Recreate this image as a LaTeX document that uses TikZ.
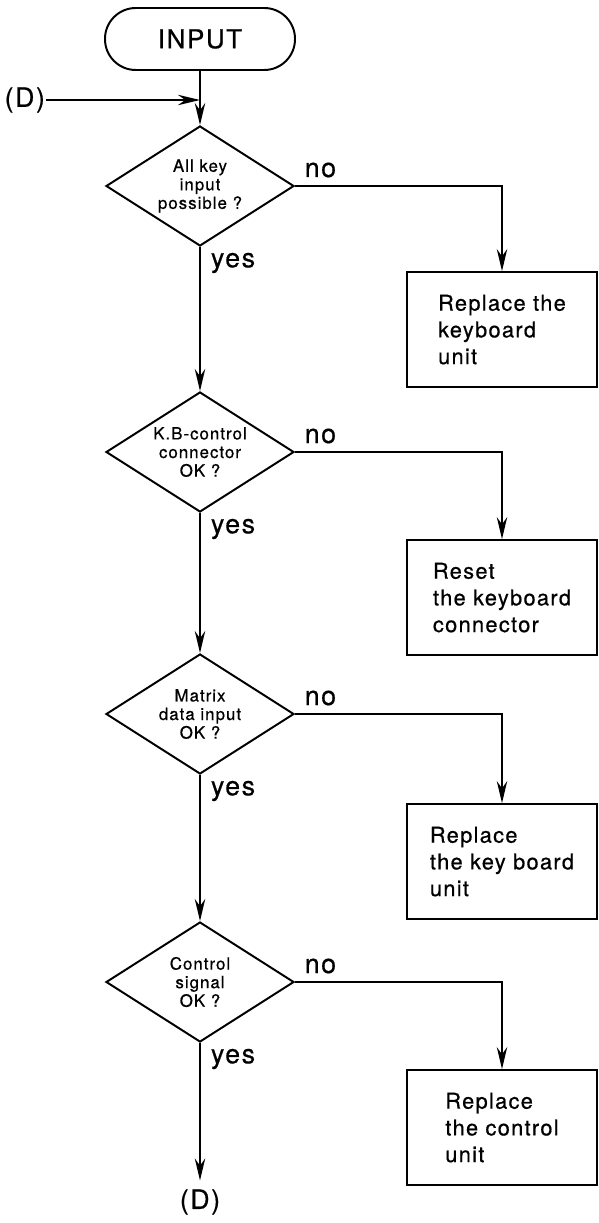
\documentclass[tikz,border=0pt]{standalone}
\usepackage{fontspec}
\setmainfont{TeX Gyre Heros}[LetterSpace=6, FakeBold=0.6]
\usetikzlibrary{arrows.meta, positioning, shapes.geometric}

\begin{document}
\begin{tikzpicture}[>={Stealth[length=5.5mm, width=2.6mm, inset=1.8mm]}, line width=1.4pt,
        decision/.style={draw, diamond, aspect=1.57, inner sep=0pt, minimum width=4.7cm, minimum height=3cm, align=center, font=\fontsize{12}{13.2}\selectfont},
        action/.style={draw, rectangle, minimum width=4.75cm, minimum height=2.875cm, align=left, font=\fontsize{15.5}{19}\selectfont},
        answer/.style={inner sep=0pt, font=\fontsize{19}{21}\selectfont}]

        \useasboundingbox (0,0) rectangle (14.95,-30.575);

        \coordinate (T) at (5,-0.975);
        \coordinate (J) at (5,-2.5);

        \node[draw, rounded corners=0.77cm, minimum width=4.75cm, minimum height=1.55cm, font=\fontsize{18.5}{20}\selectfont] (input) at (T) {INPUT};
        \node[inner sep=0pt, font=\fontsize{19}{21}\selectfont] (dIn) at (0.62,-2.5) {(D)};

        \node[decision] (chkKey) at (5,-4.65) {All key\\input\\possible ?};
        \node[decision] (chkConn) at (5,-11.3) {K.B-control\\connector\\OK ?};
        \node[decision] (chkMatrix) at (5,-17.85) {Matrix\\data input\\OK ?};
        \node[decision] (chkSignal) at (5,-24.55) {Control\\signal\\OK ?};

        \node[action] (fixKeyboard) at (12.55,-8.24) {Replace the\\keyboard\\unit};
        \node[action] (fixConn) at (12.55,-14.94) {Reset\\the keyboard\\connector};
        \node[action] (fixKeyUnit) at (12.55,-21.54) {Replace\\the key board\\unit};
        \node[action] (fixControl) at (12.55,-28.19) {Replace\\the control\\unit};

        \node[inner sep=0pt, font=\fontsize{19}{21}\selectfont] (dOut) at (5,-30.05) {(D)};

        \draw (input.south) -- (J);
        \draw[->] (dIn) -- (J);
        \draw[->] (J) -- (chkKey.north);
        \draw[->] (chkKey.south) -- (chkConn.north);
        \draw[->] (chkConn.south) -- (chkMatrix.north);
        \draw[->] (chkMatrix.south) -- (chkSignal.north);
        \draw[->] (chkSignal.south) -- ([yshift=0.2cm]dOut.north);

        \draw[->] (chkKey.east) -| (fixKeyboard.north);
        \draw[->] (chkConn.east) -| (fixConn.north);
        \draw[->] (chkMatrix.east) -| (fixKeyUnit.north);
        \draw[->] (chkSignal.east) -| (fixControl.north);

        \node[answer, anchor=west] at ([xshift=0.22cm, yshift=0.4cm]chkKey.east) {no};
        \node[answer, anchor=west] at ([xshift=0.22cm, yshift=0.4cm]chkConn.east) {no};
        \node[answer, anchor=west] at ([xshift=0.22cm, yshift=0.4cm]chkMatrix.east) {no};
        \node[answer, anchor=west] at ([xshift=0.22cm, yshift=0.4cm]chkSignal.east) {no};

        \node[answer, anchor=west] at ([xshift=0.25cm, yshift=-0.4cm]chkKey.south) {yes};
        \node[answer, anchor=west] at ([xshift=0.25cm, yshift=-0.4cm]chkConn.south) {yes};
        \node[answer, anchor=west] at ([xshift=0.25cm, yshift=-0.4cm]chkMatrix.south) {yes};
        \node[answer, anchor=west] at ([xshift=0.25cm, yshift=-0.4cm]chkSignal.south) {yes};

    \end{tikzpicture}
\end{document}
